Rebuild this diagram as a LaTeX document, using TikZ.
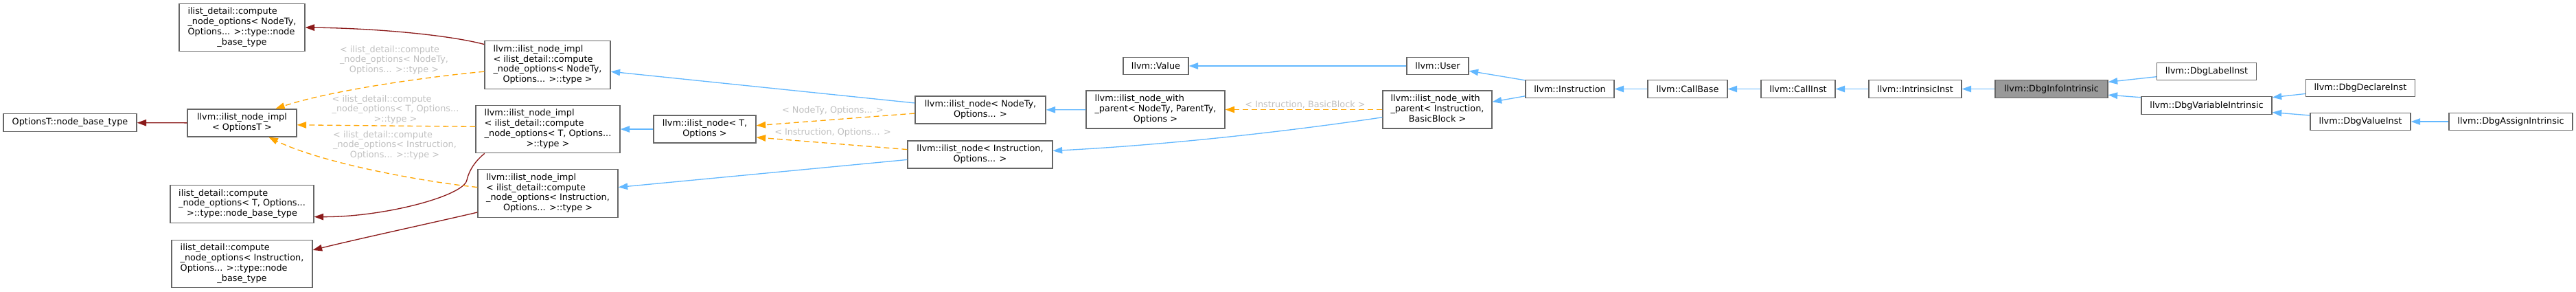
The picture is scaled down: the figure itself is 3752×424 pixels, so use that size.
\documentclass[tikz,border=0pt]{standalone}
\usepackage{fontspec}
\setmainfont{DejaVu Sans}
\usetikzlibrary{arrows.meta}
\newlength{\pxl}
\setlength{\pxl}{0.02cm}
\newcommand{\dlabel}[2]{\begin{tabular}{@{}l@{}}#1\\\multicolumn{1}{@{}c@{}}{#2}\end{tabular}}
\definecolor{edgeblue}{HTML}{63B8FF}
\definecolor{edgered}{HTML}{8B1A1A}
\definecolor{edgeorange}{HTML}{FFA500}
\definecolor{labgrey}{HTML}{C0C0C0}
\definecolor{boxline}{HTML}{666666}
\definecolor{boxfill}{HTML}{999999}

\begin{document}
\begin{tikzpicture}[
  x=0.02cm, y=-0.02cm,
  font=\fontsize{7.3}{8.4}\selectfont,
  box/.style={draw=boxline, fill=white, line width=0.75pt, inner sep=0pt, minimum height=25.5\pxl},
  l2/.style={minimum height=40\pxl},
  l3/.style={minimum height=55\pxl},
  l4/.style={minimum height=69.5\pxl},
  cur/.style={box, fill=boxfill},
  pub/.style={-{Triangle[length=0.27cm, width=0.19cm]}, draw=edgeblue, line width=0.75pt},
  priv/.style={-{Triangle[length=0.27cm, width=0.19cm]}, draw=edgered, line width=0.75pt},
  tmpl/.style={-{Triangle[length=0.27cm, width=0.19cm]}, draw=edgeorange, line width=0.75pt, dash pattern=on 0.16cm off 0.1cm},
  tlab/.style={text=labgrey, inner sep=0pt}
]
\useasboundingbox (0,0) rectangle (3752,424);
\node[box, minimum width=194\pxl] (opt) at (102,178.5) {OptionsT::node\_base\_type};
\node[box, l2, minimum width=159\pxl] (implO) at (352.5,179) {\dlabel{llvm::ilist\_node\_impl}{< OptionsT >}};
\node[box, l4, minimum width=183\pxl] (dN) at (352.5,40) {\dlabel{ilist\_detail::compute\\\_node\_options< NodeTy,\\Options... >::type::node}{\_base\_type}};
\node[box, l3, minimum width=209\pxl] (dT) at (352.5,297) {\dlabel{ilist\_detail::compute\\\_node\_options< T, Options...}{>::type::node\_base\_type}};
\node[box, l4, minimum width=205\pxl] (dI) at (352.5,384) {\dlabel{ilist\_detail::compute\\\_node\_options< Instruction,\\Options... >::type::node}{\_base\_type}};
\node[box, l4, minimum width=183\pxl] (iN) at (797.5,94.5) {\dlabel{llvm::ilist\_node\_impl\\< ilist\_detail::compute\\\_node\_options< NodeTy,}{Options... >::type >}};
\node[box, l4, minimum width=210\pxl] (iT) at (798,188) {\dlabel{llvm::ilist\_node\_impl\\< ilist\_detail::compute\\\_node\_options< T, Options...}{>::type >}};
\node[box, l4, minimum width=204\pxl] (iI) at (798,281.5) {\dlabel{llvm::ilist\_node\_impl\\< ilist\_detail::compute\\\_node\_options< Instruction,}{Options... >::type >}};
\node[box, l2, minimum width=149\pxl] (nT) at (1026.5,188) {\dlabel{llvm::ilist\_node< T,}{Options >}};
\node[box, l2, minimum width=190\pxl] (nN) at (1428,160) {\dlabel{llvm::ilist\_node< NodeTy,}{Options... >}};
\node[box, l2, minimum width=211\pxl] (nI) at (1427.5,225) {\dlabel{llvm::ilist\_node< Instruction,}{Options... >}};
\node[box, minimum width=95\pxl] (val) at (1683.5,96) {llvm::Value};
\node[box, l3, minimum width=202\pxl] (wpN) at (1683,159.5) {\dlabel{llvm::ilist\_node\_with\\\_parent< NodeTy, ParentTy,}{Options >}};
\node[box, minimum width=90\pxl] (usr) at (2094,96) {llvm::User};
\node[box, l3, minimum width=159\pxl] (wpI) at (2093.5,159.5) {\dlabel{llvm::ilist\_node\_with\\\_parent< Instruction,}{BasicBlock >}};
\node[box, minimum width=129\pxl] (ins) at (2286.5,129.5) {llvm::Instruction};
\node[box, minimum width=116\pxl] (cb) at (2458,129.5) {llvm::CallBase};
\node[box, minimum width=108\pxl] (ci) at (2619,129.5) {llvm::CallInst};
\node[box, minimum width=135\pxl] (ii) at (2789.5,129.5) {llvm::IntrinsicInst};
\node[cur, minimum width=164\pxl] (dii) at (2988,129.5) {llvm::DbgInfoIntrinsic};
\node[box, minimum width=145\pxl] (dli) at (3214,104) {llvm::DbgLabelInst};
\node[box, minimum width=190\pxl] (dvi) at (3214,153.5) {llvm::DbgVariableIntrinsic};
\node[box, minimum width=159\pxl] (ddi) at (3438,128) {llvm::DbgDeclareInst};
\node[box, minimum width=146\pxl] (dvali) at (3438,177) {llvm::DbgValueInst};
\node[box, minimum width=180\pxl] (dai) at (3657,177) {llvm::DbgAssignIntrinsic};
\node[tlab] (lab1) at (574,88) {\dlabel{< ilist\_detail::compute\\\_node\_options< NodeTy,}{Options... >::type >}};
\node[tlab] (lab2) at (576,160) {\dlabel{< ilist\_detail::compute\\\_node\_options< T, Options...}{>::type >}};
\node[tlab] (lab3) at (575,212) {\dlabel{< ilist\_detail::compute\\\_node\_options< Instruction,}{Options... >::type >}};
\node[tlab] (lab4) at (1213,161) {< NodeTy, Options... >};
\node[tlab] (lab5) at (1213,193) {< Instruction, Options... >};
\node[tlab] (lab6) at (1901,152) {< Instruction, BasicBlock >};
\draw[priv] (implO) -- (opt);
\draw[priv] (iN.162.7) .. controls (650,50) and (540,41) .. (dN.east);
\draw[priv] (iT.201.3) .. controls (695,232) and (684,245) .. (680,262) .. controls (676,285) and (560,316) .. (dT.350.8);
\draw[priv] (iI.195.1) .. controls (640,322) and (520,348) .. (dI.11.6);
\draw[tmpl] (iN.186.6) .. controls (620,112) and (480,132) .. (implO.23.4);
\draw[tmpl] (iT.178.9) -- (implO.358.6);
\draw[tmpl] (iI.175.2) .. controls (620,265) and (470,238) .. (implO.332.6);
\draw[pub] (nN.174) -- (iN.354.1);
\draw[pub] (nT) -- (iT);
\draw[pub] (nI.184.9) -- (iI.5.3);
\draw[tmpl] (nN.183.6) -- (nT.4.6);
\draw[tmpl] (nI.176.4) -- (nT.351.6);
\draw[pub] (wpN) -- (nN);
\draw[tmpl] (wpI) -- (wpN);
\draw[pub] (wpI.188.2) .. controls (1850,195) and (1680,212) .. (nI.3.8);
\draw[pub] (usr) -- (val);
\draw[pub] (ins.169.9) -- (usr.351.2);
\draw[pub] (ins.189.2) -- (wpI.8.9);
\draw[pub] (cb) -- (ins);
\draw[pub] (ci) -- (cb);
\draw[pub] (ii) -- (ci);
\draw[pub] (dii) -- (ii);
\draw[pub] (dli.186.8) -- (dii.7.3);
\draw[pub] (dvi.173.7) -- (dii.354.1);
\draw[pub] (ddi.186.2) -- (dvi.7.5);
\draw[pub] (dvali.173.7) -- (dvi.354.1);
\draw[pub] (dai) -- (dvali);
\end{tikzpicture}
\end{document}
